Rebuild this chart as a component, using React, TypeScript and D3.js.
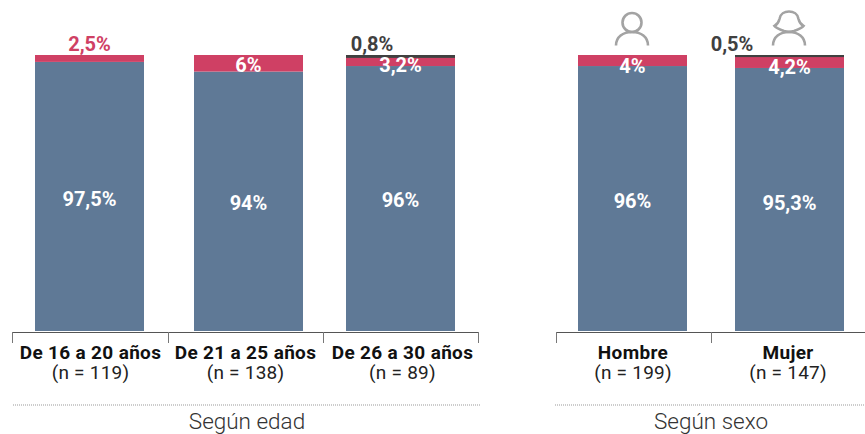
import React from "react";
import * as d3 from "d3";

const ageCategories = ["De 16 a 20 años", "De 21 a 25 años", "De 26 a 30 años"];
const ageCounts = ["(n = 119)", "(n = 138)", "(n = 89)"];
const ageBlue = [97.5, 94, 96];
const ageRed = [2.5, 6, 3.2];
const ageDark = [0, 0, 0.8];

const sexCategories = ["Hombre", "Mujer"];
const sexCounts = ["(n = 199)", "(n = 147)"];
const sexBlue = [96, 95.3];
const sexRed = [4, 4.2];
const sexDark = [0, 0.5];

const blueLabels = ["97,5%", "94%", "96%", "96%", "95,3%"];
const redLabels = ["2,5%", "6%", "3,2%", "4%", "4,2%"];
const darkLabels = ["", "", "0,8%", "", "0,5%"];

const BLUE = "#5f7996";
const RED = "#cf4064";
const DARK = "#404040";
const FONT = "Roboto, sans-serif";

const y = d3.scaleLinear().domain([0, 100]).range([331, 55]);
const categories = [...ageCategories, ...sexCategories];
const counts = [...ageCounts, ...sexCounts];
const blue = [...ageBlue, ...sexBlue];
const red = [...ageRed, ...sexRed];
const dark = [...ageDark, ...sexDark];

const barLeft = d3.scaleOrdinal<string, number>().domain(categories).range([35, 194, 346, 578, 735]);
const labelCenter = d3.scaleOrdinal<string, number>().domain(categories).range([90.5, 245.5, 402.5, 633, 788]);
const BAR_W = 109;

const blueLabelY = [206, 210, 207, 208, 210];
const redLabelY = [51, 72, 72, 72.5, 74];
const darkLabelX = [0, 0, 372, 0, 732];
const axes = [
  { ticks: [12, 168, 323, 478], line: [12, 478], dot: [13, 481], title: "Según edad", tx: 247 },
  { ticks: [556, 711], line: [556, 865], dot: [555, 865], title: "Según sexo", tx: 711 },
];

function PersonIcon({ cx, female }: { cx: number; female: boolean }) {
  const shoulders = d3.path();
  shoulders.moveTo(cx - 16, 45.5);
  shoulders.bezierCurveTo(cx - 16, 37, cx - 9, 32, cx, 32);
  shoulders.bezierCurveTo(cx + 9, 32, cx + 16, 37, cx + 16, 45.5);
  const common = { fill: "none", stroke: "#a3a3a3", strokeWidth: 2.6 };
  if (!female) {
    return (
      <g {...common}>
        <circle cx={cx} cy={22.5} r={9.5} />
        <path d={shoulders.toString()} />
      </g>
    );
  }
  const hair = d3.path();
  hair.moveTo(cx - 5, 31);
  hair.bezierCurveTo(cx - 9, 29.5, cx - 13, 28, cx - 14.5, 26);
  hair.bezierCurveTo(cx - 11, 24, cx - 10, 21, cx - 9.5, 19);
  hair.bezierCurveTo(cx - 8, 9, cx + 8, 9, cx + 9.5, 19);
  hair.bezierCurveTo(cx + 10, 21, cx + 11, 24, cx + 14.5, 26);
  hair.bezierCurveTo(cx + 13, 28, cx + 9, 29.5, cx + 5, 31);
  hair.bezierCurveTo(cx + 2, 32, cx - 2, 32, cx - 5, 31);
  return (
    <g {...common}>
      <path d={hair.toString()} />
      <path d={shoulders.toString()} />
    </g>
  );
}

export default function App() {
  return (
    <svg
      width={865}
      height={434}
      style={{ position: "absolute", left: 0, top: 0, background: "#fff" }}
      fontFamily={FONT}
    >
      {categories.map((c, i) => {
        const x = barLeft(c);
        const b = blue[i];
        const r = red[i];
        const d = dark[i];
        const mid = x + BAR_W / 2;
        return (
          <g key={c}>
            <rect x={x} width={BAR_W} y={y(b)} height={y(0) - y(b)} fill={BLUE} />
            <rect x={x} width={BAR_W} y={y(b + r)} height={y(b) - y(b + r)} fill={RED} />
            {d > 0 && <rect x={x} width={BAR_W} y={y(b + r + d)} height={y(b + r) - y(b + r + d) + 0.7} fill={DARK} />}
            <text x={mid} y={blueLabelY[i]} textAnchor="middle" fontSize={20} fontWeight={700} fill="#fff">
              {blueLabels[i]}
            </text>
            <text
              x={mid}
              y={redLabelY[i]}
              textAnchor="middle"
              fontSize={20}
              fontWeight={700}
              fill={i === 0 ? RED : "#fff"}
            >
              {redLabels[i]}
            </text>
            {darkLabels[i] && (
              <text x={darkLabelX[i]} y={51} textAnchor="middle" fontSize={20} fontWeight={700} fill={DARK}>
                {darkLabels[i]}
              </text>
            )}
            <text x={labelCenter(c)} y={359} textAnchor="middle" fontSize={19} letterSpacing={0.33} fontWeight={700} fill="#111">
              {c}
            </text>
            <text x={labelCenter(c)} y={379} textAnchor="middle" fontSize={19} letterSpacing={0.25} fill="#222">
              {counts[i]}
            </text>
          </g>
        );
      })}
      {axes.map((a) => (
        <g key={a.title}>
          <line x1={a.line[0]} x2={a.line[1]} y1={332.5} y2={332.5} stroke="#555" strokeWidth={1} />
          {a.ticks.map((t) => (
            <line key={t} x1={t + 0.5} x2={t + 0.5} y1={332} y2={343} stroke="#777" strokeWidth={1} />
          ))}
          <line x1={a.dot[0]} x2={a.dot[1]} y1={405} y2={405} stroke="#999" strokeWidth={1} strokeDasharray="1 1" />
          <text x={a.tx} y={429} textAnchor="middle" fontSize={22.5} fontWeight={300} fill="#333">
            {a.title}
          </text>
        </g>
      ))}
      <PersonIcon cx={632} female={false} />
      <PersonIcon cx={789} female={true} />
    </svg>
  );
}
